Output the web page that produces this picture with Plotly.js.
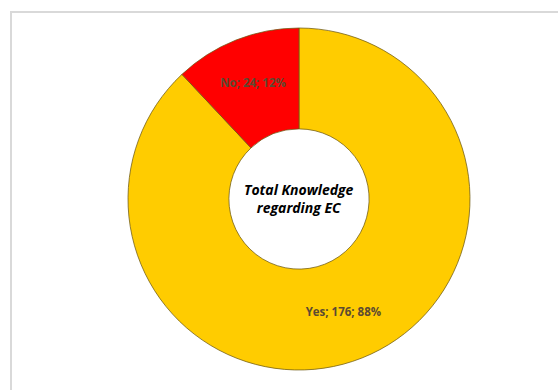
<!DOCTYPE html>
<html>
<head>
<meta charset="utf-8">
<script src="https://cdn.plot.ly/plotly-3.0.1.min.js"></script>
<style>html,body{margin:0;padding:0;background:#fff;}#chart{width:558px;height:390px;}</style>
</head>
<body>
<div id="chart"></div>
<script>
const labels = ["Yes", "No"];
const values = [176, 24];
const colors = ["#FFCC00", "#FF0000"];
const centerTitle = "Total Knowledge<br>regarding EC";

const W = 558, H = 390;
const trace = {
  type: "pie",
  labels: labels,
  values: values,
  hole: 0.41,
  sort: false,
  direction: "clockwise",
  rotation: 0,
  marker: {colors: colors, line: {color: "rgba(110,90,20,0.75)", width: 1}},
  texttemplate: "<b>%{label}; %{value}; %{percent:.0%}</b>",
  textposition: "inside",
  insidetextorientation: "horizontal",
  textfont: {family: "Open Sans, Liberation Sans, sans-serif", size: 11.5, color: "#5b4a32"},
  domain: {x: [128 / W, 470 / W], y: [(H - 370) / H, (H - 28) / H]},
  showlegend: false,
  hoverinfo: "none"
};
const layout = {
  width: W, height: H,
  margin: {l: 0, r: 0, t: 0, b: 0},
  paper_bgcolor: "#ffffff",
  showlegend: false,
  shapes: [{
    type: "rect", xref: "paper", yref: "paper",
    x0: 11 / W, x1: 1.2, y0: -0.2, y1: (H - 12) / H,
    line: {color: "#d9d9d9", width: 2}
  }],
  annotations: [{
    xref: "paper", yref: "paper",
    x: 299 / W, y: (H - 198) / H,
    text: "<b><i>" + centerTitle + "</i></b>",
    showarrow: false,
    font: {family: "Open Sans, Liberation Sans, sans-serif", size: 14, color: "#000000"},
    align: "center"
  }]
};
Plotly.newPlot("chart", [trace], layout, {displayModeBar: false, staticPlot: true});
</script>
</body>
</html>
